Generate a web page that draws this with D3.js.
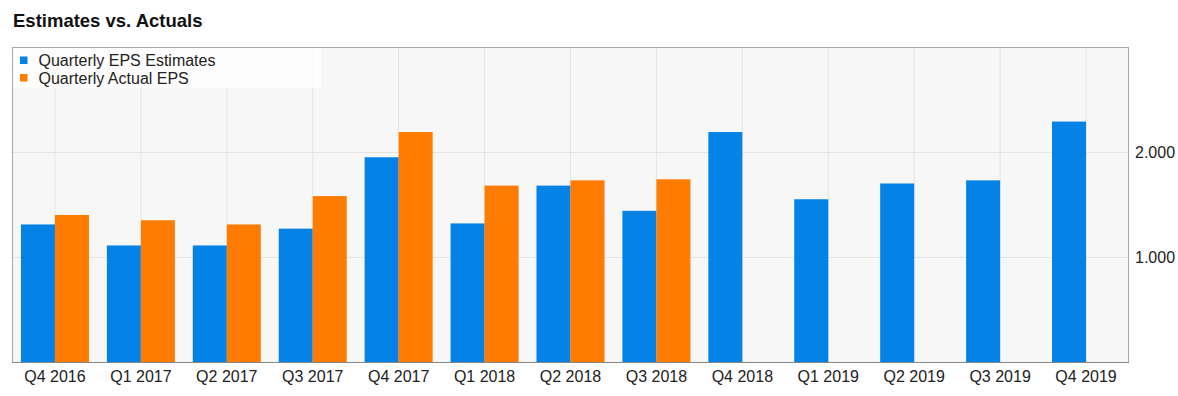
<!DOCTYPE html>
<html>
<head>
<meta charset="utf-8">
<script src="https://cdn.jsdelivr.net/npm/d3@7"></script>
<style>
  html, body { margin: 0; padding: 0; background: #fff; }
  svg { display: block; font-family: "Liberation Sans", Arial, sans-serif; }
</style>
</head>
<body>
<svg id="chart" width="1178" height="396"></svg>
<script>
const categories = ["Q4 2016","Q1 2017","Q2 2017","Q3 2017","Q4 2017","Q1 2018","Q2 2018","Q3 2018","Q4 2018","Q1 2019","Q2 2019","Q3 2019","Q4 2019"];
const estimates = [1.31, 1.11, 1.11, 1.27, 1.95, 1.32, 1.68, 1.44, 2.19, 1.55, 1.70, 1.73, 2.29];
const actuals   = [1.40, 1.35, 1.31, 1.58, 2.19, 1.68, 1.73, 1.74, null, null, null, null, null];
const seriesNames = ["Quarterly EPS Estimates", "Quarterly Actual EPS"];
const seriesColors = ["#0582e6", "#ff7c00"];
const yTicks = [1, 2];
const yTickLabels = ["1.000", "2.000"];
const title = "Estimates vs. Actuals";

const svg = d3.select("#chart");
const plot = { left: 12, right: 1129, top: 47, bottom: 362 };

const x = d3.scaleBand().domain(categories).range([plot.left, plot.right]).padding(0);
const xs = d3.scaleBand().domain([0, 1]).range([0, x.bandwidth()]).paddingInner(0).paddingOuter(0.263);
const y = d3.scaleLinear().domain([0, 3]).range([plot.bottom, plot.top]);

// title
svg.append("text").attr("x", 13).attr("y", 27)
  .attr("font-size", 18.5).attr("font-weight", "bold").attr("fill", "#111")
  .text(title);

// background
svg.append("rect").attr("x", plot.left).attr("y", plot.top)
  .attr("width", plot.right - plot.left).attr("height", plot.bottom - plot.top)
  .attr("fill", "#f7f7f7");

// vertical gridlines at category centers
svg.append("g").selectAll("line").data(categories).join("line")
  .attr("x1", d => x(d) + x.bandwidth() / 2).attr("x2", d => x(d) + x.bandwidth() / 2)
  .attr("y1", plot.top).attr("y2", plot.bottom)
  .attr("stroke", "#e4e4e4").attr("stroke-width", 1);

// horizontal gridlines
svg.append("g").selectAll("line").data(yTicks).join("line")
  .attr("x1", plot.left).attr("x2", plot.right)
  .attr("y1", d => Math.round(y(d)) + 0.5).attr("y2", d => Math.round(y(d)) + 0.5)
  .attr("stroke", "#e4e4e4").attr("stroke-width", 1);

// bars
const series = [estimates, actuals];
series.forEach((vals, si) => {
  svg.append("g").selectAll("rect")
    .data(categories.map((c, i) => ({ c, v: vals[i] })).filter(d => d.v != null))
    .join("rect")
    .attr("x", d => x(d.c) + xs(si))
    .attr("width", xs.bandwidth())
    .attr("y", d => y(d.v))
    .attr("height", d => y(0) - y(d.v))
    .attr("fill", seriesColors[si]);
});

// border
svg.append("rect").attr("x", plot.left + 0.5).attr("y", plot.top + 0.5)
  .attr("width", plot.right - plot.left - 1).attr("height", plot.bottom - plot.top)
  .attr("fill", "none").attr("stroke", "#a8a8a8").attr("stroke-width", 1);
svg.append("line").attr("x1", plot.left).attr("x2", plot.right)
  .attr("y1", plot.bottom + 0.5).attr("y2", plot.bottom + 0.5)
  .attr("stroke", "#888").attr("stroke-width", 1);

// x axis labels
const xAxis = d3.axisBottom(x).tickSize(0).tickPadding(0);
const gx = svg.append("g").attr("transform", `translate(0,${plot.bottom})`).call(xAxis);
gx.select(".domain").remove();
gx.selectAll("text").attr("font-size", 16).attr("fill", "#222")
  .attr("font-family", "Liberation Sans, Arial, sans-serif")
  .attr("dy", null).attr("y", 20);

// y axis labels (right)
const yAxis = d3.axisRight(y).tickValues(yTicks).tickFormat((d, i) => yTickLabels[i]).tickSize(0).tickPadding(0);
const gy = svg.append("g").attr("transform", `translate(${plot.right + 6},0)`).call(yAxis);
gy.select(".domain").remove();
gy.selectAll("text").attr("font-size", 16).attr("fill", "#222")
  .attr("font-family", "Liberation Sans, Arial, sans-serif")
  .attr("dy", "0.35em");

// legend
svg.append("rect").attr("x", plot.left + 1).attr("y", plot.top + 1)
  .attr("width", 308).attr("height", 40).attr("fill", "#fff").attr("opacity", 0.75);
const lg = svg.append("g").selectAll("g").data(seriesNames).join("g")
  .attr("transform", (d, i) => `translate(20,${56.5 + i * 17.5})`);
lg.append("rect").attr("width", 7.5).attr("height", 7.5).attr("fill", (d, i) => seriesColors[i]);
lg.append("text").attr("x", 18.5).attr("y", 9.5).attr("font-size", 16).attr("fill", "#222").text(d => d);
</script>
</body>
</html>
